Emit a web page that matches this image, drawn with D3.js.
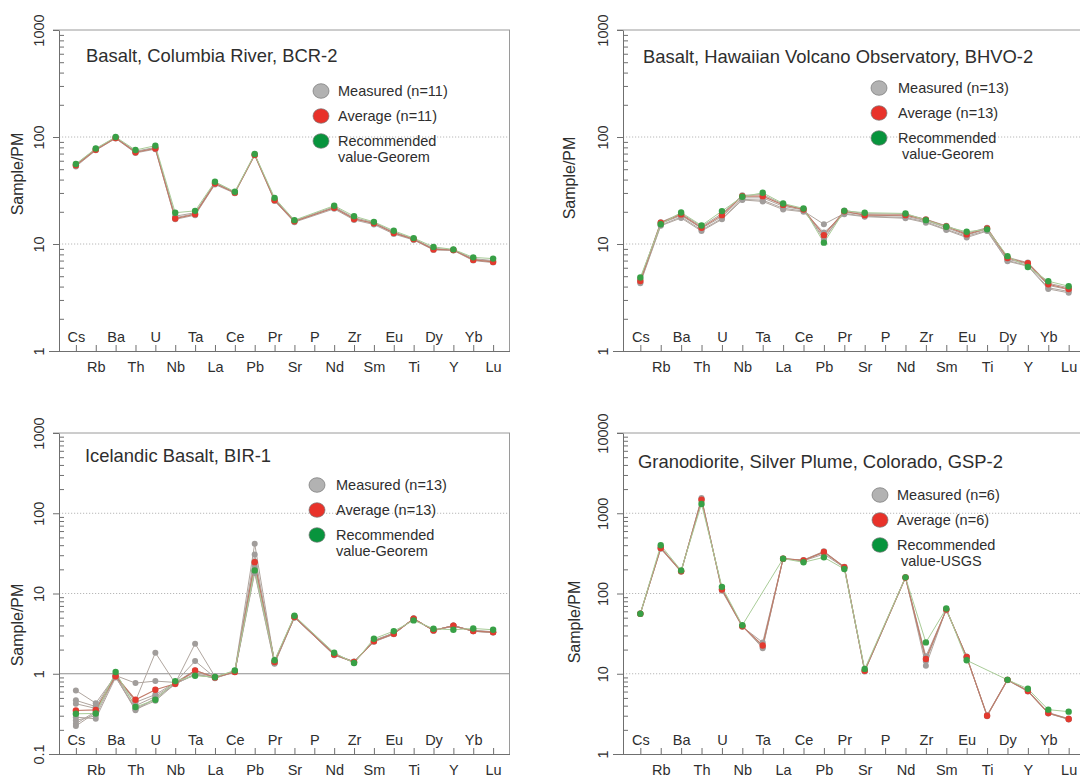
<!DOCTYPE html>
<html>
<head>
<meta charset="utf-8">
<script src="https://cdn.jsdelivr.net/npm/d3@7"></script>
<style>
  body { margin: 0; background: #fff; }
  svg { display: block; }
  text { font-family: "Liberation Sans", Arial, Helvetica, sans-serif; fill: #2e2e2e; }
</style>
</head>
<body>
<svg id="chart" width="1080" height="780"></svg>
<script>
// Trace elements, primitive-mantle normalised (P not reported -> null)
const elements = ["Cs","Rb","Ba","Th","U","Nb","Ta","La","Ce","Pb","Pr","Sr","P","Nd","Zr","Sm","Eu","Ti","Dy","Y","Yb","Lu"];

// ---- BCR-2 ----
const bcrMeasured = [
  [53, 75, 97, 71, 77, 17, 18.6, 36, 29.8, 67.5, 25.2, 16, null, 21.3, 16.8, 15.2, 12.4, 10.9, 8.8, 8.7, 7.0, 6.7],
  [55.5, 77.5, 99, 73.5, 80, 18.2, 19.6, 37.5, 30.5, 68.8, 26.3, 16.5, null, 22.3, 17.6, 15.9, 13.0, 11.2, 9.1, 8.85, 7.3, 7.0],
  [54, 76.5, 98.5, 72.5, 79, 17.6, 19.2, 37, 30.3, 68.4, 25.8, 16.2, null, 21.9, 17.3, 15.5, 12.8, 11.0, 9.0, 8.8, 7.2, 6.9]
];
const bcrAverage = [54.5, 76, 98, 72, 78, 17.3, 19, 36.8, 30.2, 68, 25.7, 16.3, null, 21.8, 17.1, 15.6, 12.7, 11.1, 8.9, 8.8, 7.1, 6.8];
const bcrRecommended = [56, 78, 100, 75.5, 83, 19.6, 20.4, 38.2, 30.8, 69.3, 27, 16.7, null, 22.8, 18.2, 16.1, 13.3, 11.35, 9.4, 8.9, 7.5, 7.3];

// ---- BHVO-2 ----
const bhvoMeasured = [
  [4.4, 15.0, 17.9, 13.5, 17.3, 26.1, 25.7, 21.6, 20.3, 15.3, 19.3, 18.2, null, 17.7, 16.1, 13.7, 11.8, 13.4, 7.0, 6.3, 3.9, 3.6],
  [4.6, 15.5, 18.5, 14.0, 18.0, 27.0, 27.0, 22.5, 20.8, 11.5, 19.8, 18.8, null, 18.2, 16.5, 14.2, 12.1, 13.8, 7.2, 6.5, 4.1, 3.75],
  [4.7, 16.0, 19.3, 14.6, 19.2, 28.5, 29.0, 23.5, 21.2, 11.0, 20.6, 19.2, null, 19.0, 17.0, 14.8, 12.6, 14.2, 7.5, 6.7, 4.3, 3.9],
  [4.3, 14.8, 17.5, 13.2, 17.0, 25.8, 25.0, 21.0, 20.0, 12.8, 19.0, 18.0, null, 17.4, 15.8, 13.5, 11.5, 13.2, 6.9, 6.2, 3.8, 3.5]
];
const bhvoAverage = [4.5, 15.8, 18.9, 14.2, 18.6, 28, 28, 23.2, 21, 12.1, 20.2, 18.6, null, 18.6, 16.9, 14.6, 12.3, 14.0, 7.4, 6.6, 4.2, 3.8];
const bhvoRecommended = [4.86, 15.3, 19.7, 14.9, 20.3, 27.6, 30.1, 23.9, 21.5, 10.3, 20.4, 19.6, null, 19.3, 16.7, 14.5, 13.0, 13.7, 7.7, 6.1, 4.49, 4.03];

// ---- BIR-1 ----
const birMeasured = [
  [0.62, 0.43, 0.95, 0.765, 0.81, 0.78, 1.44, 0.9, 1.08, 41.7, 1.38, 5.1, null, 1.75, 1.38, 2.6, 3.2, 4.8, 3.5, 3.9, 3.45, 3.35],
  [0.466, 0.39, 0.97, 0.46, 1.83, 0.76, 2.37, 0.92, 1.06, 30.7, 1.36, 5.15, null, 1.78, 1.4, 2.58, 3.18, 4.85, 3.48, 3.95, 3.42, 3.32],
  [0.423, 0.37, 0.92, 0.35, 0.5, 0.74, 1.0, 0.88, 1.05, 18.0, 1.33, 5.0, null, 1.72, 1.42, 2.5, 3.1, 4.9, 3.45, 4.0, 3.38, 3.28],
  [0.288, 0.275, 0.9, 0.37, 0.48, 0.76, 0.98, 0.89, 1.07, 22.0, 1.42, 5.2, null, 1.76, 1.38, 2.55, 3.2, 4.8, 3.5, 3.9, 3.45, 3.3],
  [0.262, 0.3, 0.94, 0.4, 0.52, 0.77, 1.05, 0.9, 1.06, 20.5, 1.4, 5.05, null, 1.73, 1.41, 2.56, 3.15, 4.86, 3.46, 3.98, 3.4, 3.3],
  [0.238, 0.34, 0.96, 0.44, 0.55, 0.78, 1.1, 0.91, 1.08, 25.0, 1.45, 5.1, null, 1.75, 1.39, 2.6, 3.22, 4.82, 3.5, 3.92, 3.42, 3.34],
  [0.223, 0.33, 0.93, 0.36, 0.46, 0.75, 0.97, 0.89, 1.05, 19.0, 1.35, 5.12, null, 1.7, 1.4, 2.52, 3.12, 4.88, 3.44, 3.97, 3.38, 3.27]
];
const birAverage = [0.349, 0.355, 0.93, 0.475, 0.632, 0.75, 1.1, 0.9, 1.05, 24.6, 1.4, 5.1, null, 1.74, 1.4, 2.55, 3.15, 4.85, 3.47, 3.96, 3.4, 3.3];
const birRecommended = [0.317, 0.32, 1.05, 0.385, 0.475, 0.81, 0.944, 0.91, 1.1, 19.4, 1.47, 5.28, null, 1.83, 1.36, 2.73, 3.4, 4.62, 3.64, 3.53, 3.67, 3.53];

// ---- GSP-2 ----
const gspMeasured = [
  [56, 360, 186, 1550, 108, 38.5, 24.6, 270, 262, 335, 215, 10.7, null, 157, 16.5, 62, 16.4, 2.95, 8.3, 6.0, 3.2, 2.7],
  [55.5, 375, 190, 1420, 115, 39.5, 20.8, 273, 255, 310, 210, 11.0, null, 159, 12.6, 64, 16.0, 3.05, 8.45, 6.15, 3.28, 2.76],
  [56.5, 370, 191, 1500, 113, 39, 21.6, 271, 258, 325, 212, 10.8, null, 158, 14.3, 63.5, 16.1, 3.0, 8.35, 6.1, 3.22, 2.72]
];
const gspAverage = [56, 369, 189, 1480, 112, 39, 22.5, 272, 259, 330, 213, 10.9, null, 158, 15.3, 63, 16.2, 3.0, 8.4, 6.1, 3.24, 2.73];
const gspRecommended = [56, 399, 194, 1306, 121, 40.2, null, 272, 245, 282, 202, 11.5, null, 159, 24.6, 65, 14.7, null, 8.4, 6.5, 3.57, 3.37];

// Titles and legend labels
const titles = ["Basalt, Columbia River, BCR-2", "Basalt, Hawaiian Volcano Observatory, BHVO-2", "Icelandic Basalt, BIR-1", "Granodiorite, Silver Plume, Colorado, GSP-2"];
const legendMeasured = ["Measured (n=11)", "Measured (n=13)", "Measured (n=13)", "Measured (n=6)"];
const legendAverage = ["Average (n=11)", "Average (n=13)", "Average (n=13)", "Average (n=6)"];
const legendRecommended = [["Recommended", "value-Georem"], ["Recommended", " value-Georem"], ["Recommended", "value-Georem"], ["Recommended", " value-USGS"]];

// Y axis ranges and tick labels
const yDomains = [[1, 1000], [1, 1000], [0.1, 1000], [1, 10000]];
const yTicks = [[1, 10, 100, 1000], [1, 10, 100, 1000], [0.1, 1, 10, 100, 1000], [1, 10, 100, 1000, 10000]];
const yTickLabels = [["1", "10", "100", "1000"], ["1", "10", "100", "1000"], ["0.1", "1", "10", "100", "1000"], ["1", "10", "100", "1000", "10000"]];
const yAxisTitle = "Sample/PM";

const measuredSets = [bcrMeasured, bhvoMeasured, birMeasured, gspMeasured];
const averageSets = [bcrAverage, bhvoAverage, birAverage, gspAverage];
const recommendedSets = [bcrRecommended, bhvoRecommended, birRecommended, gspRecommended];

// ---- layout of the four panels (right-hand panels run past the page edge) ----
const layout = [
  { left: 59,  right: 510,  top: 30,  bottom: 351, title: [86, 62],  legend: [321, 91, 338],  yTitle: [17, 174] },
  { left: 623, right: 1086, top: 30,  bottom: 351, title: [643, 63], legend: [879, 88, 898],  yTitle: [569, 178] },
  { left: 59,  right: 510,  top: 433, bottom: 754, title: [85, 462], legend: [317, 485, 336], yTitle: [17, 625] },
  { left: 623, right: 1086, top: 433, bottom: 754, title: [638, 468], legend: [880, 495, 897], yTitle: [574, 622] }
];

const colors = {
  measuredLine: "#b0a69f", averageLine: "#c07a68", recommendedLine: "#a9cc98",
  measuredDot: "#a19d9b", averageDot: "#e23a2f", recommendedDot: "#38a046",
  axis: "#6f6f6f", frame: "#9a9a9a", grid: "#b8b8b8"
};

const svg = d3.select("#chart");
svg.append("rect").attr("width", 1080).attr("height", 780).attr("fill", "#fff");

function toPoints(values) {
  return elements.map((el, i) => ({ el, v: values[i] })).filter(d => d.v != null);
}

function drawPanel(p) {
  const L = layout[p];
  const g = svg.append("g");
  const x = d3.scalePoint().domain(elements).range([L.left, L.right]).padding(0.85);
  const y = d3.scaleLog().domain(yDomains[p]).range([L.bottom, L.top]);

  // horizontal reference lines at interior decades (solid at 1 where the axis starts below 1)
  const interior = yTicks[p].slice(1, -1);
  interior.forEach(v => {
    const solid = v === 1;
    g.append("line")
      .attr("x1", L.left).attr("x2", L.right)
      .attr("y1", y(v)).attr("y2", y(v))
      .attr("stroke", solid ? "#8e8e8e" : colors.grid)
      .attr("stroke-width", 1)
      .attr("stroke-dasharray", solid ? null : "1.2,1.8");
  });

  // frame: top and right
  g.append("line").attr("x1", L.left - 6).attr("x2", L.right).attr("y1", L.top).attr("y2", L.top)
    .attr("stroke", colors.frame);
  g.append("line").attr("x1", L.right - 0.5).attr("x2", L.right - 0.5).attr("y1", L.top).attr("y2", L.bottom)
    .attr("stroke", colors.frame);

  // minor ticks (inside)
  const [d0, d1] = yDomains[p];
  const minors = [];
  for (let e = Math.round(Math.log10(d0)); e < Math.round(Math.log10(d1)); e++) {
    for (let k = 2; k <= 9; k++) minors.push(k * Math.pow(10, e));
  }
  const minorAxis = g.append("g").attr("transform", `translate(${L.left},0)`)
    .call(d3.axisLeft(y).tickValues(minors).tickSize(-5).tickFormat(""));
  minorAxis.select(".domain").remove();
  minorAxis.selectAll("line").attr("stroke", colors.axis);

  // major ticks with rotated labels
  const yAxis = g.append("g").attr("transform", `translate(${L.left},0)`)
    .call(d3.axisLeft(y).tickValues(yTicks[p]).tickSizeInner(6).tickSizeOuter(0)
      .tickFormat((d, i) => yTickLabels[p][i]));
  yAxis.select(".domain").attr("stroke", colors.axis);
  yAxis.selectAll("line").attr("stroke", colors.axis);
  yAxis.selectAll("text")
    .attr("x", null)
    .attr("transform", "translate(-20,0) rotate(-90)")
    .attr("text-anchor", "middle")
    .attr("dy", "0.36em")
    .style("font-size", "14.5px")
    .style("font-family", "'Liberation Sans', Arial, sans-serif")
    .attr("fill", "#333");

  // x axis: inward ticks, labels alternating above/below the axis line
  const xAxis = g.append("g").attr("transform", `translate(0,${L.bottom})`)
    .call(d3.axisBottom(x).tickSizeInner(-6).tickSizeOuter(0));
  xAxis.select(".domain").attr("stroke", colors.axis).attr("d", `M${L.left - 10},0.5H${L.right}`);
  xAxis.selectAll("line").attr("stroke", colors.axis);
  xAxis.selectAll("text")
    .attr("y", (d, i) => i % 2 === 0 ? -9 : 21)
    .attr("dy", null)
    .style("font-size", "14.5px")
    .style("font-family", "'Liberation Sans', Arial, sans-serif")
    .attr("fill", "#333");

  // series lines
  const line = d3.line().x(d => x(d.el)).y(d => y(d.v));
  measuredSets[p].forEach(s => {
    g.append("path").datum(toPoints(s)).attr("d", line)
      .attr("fill", "none").attr("stroke", colors.measuredLine).attr("stroke-width", 1);
  });
  g.append("path").datum(toPoints(averageSets[p])).attr("d", line)
    .attr("fill", "none").attr("stroke", colors.averageLine).attr("stroke-width", 1.1);
  g.append("path").datum(toPoints(recommendedSets[p])).attr("d", line)
    .attr("fill", "none").attr("stroke", colors.recommendedLine).attr("stroke-width", 1);

  // series points
  measuredSets[p].forEach(s => {
    g.selectAll(null).data(toPoints(s)).join("circle")
      .attr("cx", d => x(d.el)).attr("cy", d => y(d.v)).attr("r", 3)
      .attr("fill", colors.measuredDot);
  });
  g.selectAll(null).data(toPoints(averageSets[p])).join("circle")
    .attr("cx", d => x(d.el)).attr("cy", d => y(d.v)).attr("r", 3.2)
    .attr("fill", colors.averageDot);
  g.selectAll(null).data(toPoints(recommendedSets[p])).join("circle")
    .attr("cx", d => x(d.el)).attr("cy", d => y(d.v)).attr("r", 3.2)
    .attr("fill", colors.recommendedDot);

  // title
  g.append("text").attr("x", L.title[0]).attr("y", L.title[1])
    .style("font-size", "18.4px").text(titles[p]);

  // y axis title
  g.append("text")
    .attr("transform", `translate(${L.yTitle[0]},${L.yTitle[1]}) rotate(-90)`)
    .attr("text-anchor", "middle").attr("dy", "0.36em")
    .style("font-size", "16px").text(yAxisTitle);

  // legend
  const [cx, cy, tx] = L.legend;
  const legendRows = [
    { fill: "#b2b2b2", label: [legendMeasured[p]] },
    { fill: "#e8322a", label: [legendAverage[p]] },
    { fill: "#08943d", label: legendRecommended[p] }
  ];
  legendRows.forEach((row, i) => {
    const yy = cy + i * 25;
    g.append("ellipse").attr("cx", cx).attr("cy", yy).attr("rx", 8).attr("ry", 7.3)
      .attr("fill", row.fill).attr("stroke", "#777").attr("stroke-width", 0.7);
    row.label.forEach((t, j) => {
      g.append("text").attr("x", tx).attr("y", yy + 5 + j * 16)
        .attr("xml:space", "preserve")
        .style("white-space", "pre")
        .style("font-size", "14.5px").text(t);
    });
  });
}

[0, 1, 2, 3].forEach(drawPanel);
</script>
</body>
</html>
